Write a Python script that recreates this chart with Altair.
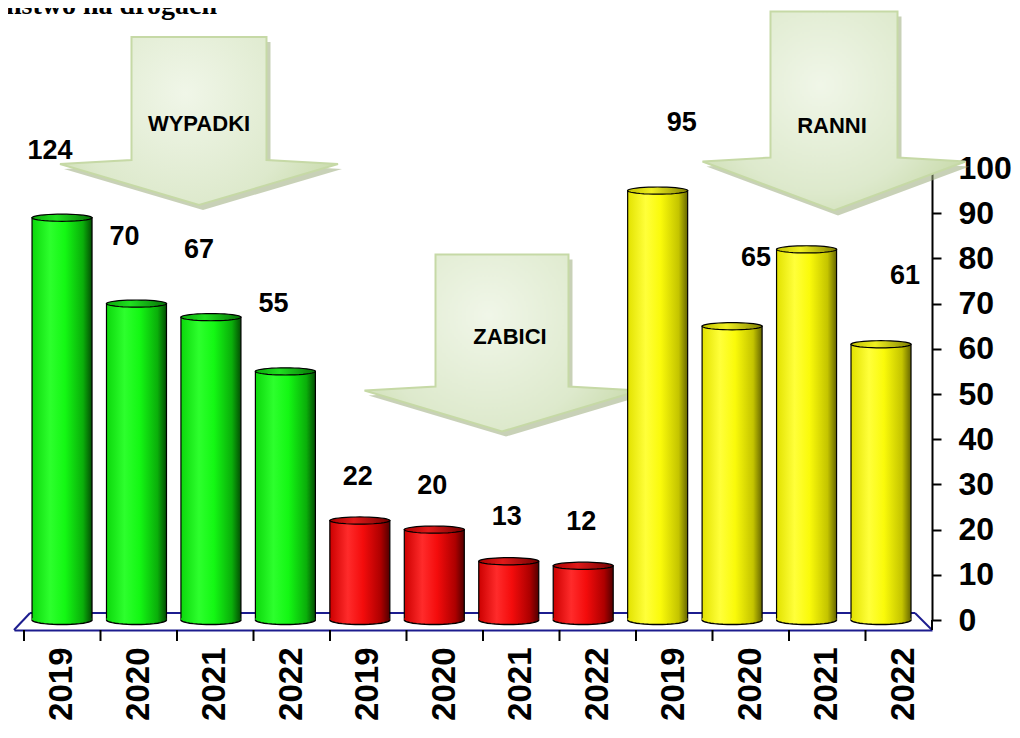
import math
import altair as alt
import pandas as pd

# ---------------- data ----------------
groups = ["WYPADKI", "ZABICI", "RANNI"]
years = ["2019", "2020", "2021", "2022"]
bar_heights = {
    "WYPADKI": [89, 70, 67, 55],
    "ZABICI": [22, 20, 13, 12],
    "RANNI": [95, 65, 82, 61],
}
value_labels = {
    "WYPADKI": ["124", "70", "67", "55"],
    "ZABICI": ["22", "20", "13", "12"],
    "RANNI": ["95", "65", "", "61"],
}
y_ticks = [0, 10, 20, 30, 40, 50, 60, 70, 80, 90, 100]
title_text = "Bezpieczeństwo na drogach"

rows = []
for g in groups:
    for yr, h, lab in zip(years, bar_heights[g], value_labels[g]):
        rows.append({"key": g[0] + yr, "group": g, "year": yr, "h": h, "lab": lab, "base": 0})
df = pd.DataFrame(rows)
keys = list(df["key"])

# ---------------- styles ----------------
W, H = 918, 452
NAVY = "#1c1c8e"
FONT = "Liberation Sans"


def hgrad(stops):
    return alt.LinearGradient(
        gradient="linear", x1=0, x2=1, y1=0, y2=0,
        stops=[alt.GradientStop(offset=o, color=c) for o, c in stops],
    )


body_grad = {
    "WYPADKI": hgrad([(0, "#0cd80c"), (0.3, "#2dff2d"), (0.55, "#14f814"), (0.85, "#0aae0a"), (1, "#034d03")]),
    "ZABICI": hgrad([(0, "#cc0000"), (0.3, "#ff2b2b"), (0.55, "#f40c0c"), (0.85, "#ad0000"), (1, "#520000")]),
    "RANNI": hgrad([(0, "#e2e200"), (0.3, "#ffff3a"), (0.55, "#fafa0a"), (0.85, "#c4c400"), (1, "#666600")]),
}
cap_grad = {
    "WYPADKI": hgrad([(0, "#0aa80a"), (0.4, "#1fe01f"), (1, "#067006")]),
    "ZABICI": hgrad([(0, "#a80000"), (0.4, "#e01a1a"), (1, "#700000")]),
    "RANNI": hgrad([(0, "#c0c000"), (0.4, "#f0f020"), (1, "#808000")]),
}
label_offsets = {"WYPADKI": (-12, -67), "ZABICI": (-2, -44), "RANNI": (24, -68)}

BAR_W = 60


def ellipse_pts(ry, a0, a1, n):
    return [(math.cos(a0 + (a1 - a0) * i / n), ry * math.sin(a0 + (a1 - a0) * i / n)) for i in range(n + 1)]


def to_path(pts, close=True):
    s = "M" + "L".join(f"{x:.4f},{y:.4f}" for x, y in pts)
    return s + ("Z" if close else "")


TOP_ELLIPSE = to_path(ellipse_pts(0.12, 0, 2 * math.pi, 40))
BOTTOM_COVER = to_path([(-1, -0.06), (1, -0.06)] + ellipse_pts(0.15, 0, math.pi, 20))
BOTTOM_ARC = to_path(ellipse_pts(0.15, 0, math.pi, 20), close=False)

x_bar = alt.X(
    "key:N", sort=keys,
    scale=alt.Scale(type="band", domain=keys, paddingInner=0, paddingOuter=0.165, align=0.44),
    axis=None,
)
y_scale = alt.Scale(domain=[0, 100], nice=False, zero=True)
y_axis = alt.Axis(
    orient="right", values=y_ticks, grid=False, title=None,
    domainColor="black", domainWidth=2, tickColor="black", tickWidth=2, tickSize=9,
    labelFont=FONT, labelFontSize=32, labelFontWeight="bold", labelColor="black",
    labelPadding=17, labelOverlap=False,
)


def y_enc(field):
    return alt.Y(field, scale=y_scale, axis=y_axis)


layers = []

# ---------------- arrows ----------------
arrow_grad = alt.RadialGradient(
    gradient="radial", x1=0.45, y1=0.4, r1=0, x2=0.45, y2=0.4, r2=0.75,
    stops=[alt.GradientStop(offset=0, color="#f0f6e8"),
           alt.GradientStop(offset=0.55, color="#dde9cc"),
           alt.GradientStop(offset=1, color="#bcd197")],
)


def arrow_path(w, h, sw, sl):
    s = w / 2
    hw = sw / 2 / s
    top = -h / 2 / s
    sb = (-h / 2 + sl) / s
    wing = sb + 4 / s
    tip = h / 2 / s
    return to_path([(-hw, top), (hw, top), (hw, sb), (1, wing), (0, tip), (-1, wing), (-hw, sb)])


# name, center x, center y (plot px), width, height, shaft width, shaft length, text x, text y
arrow_layout = [
    ("WYPADKI", 185, -47, 278, 168, 135, 123, 185, -44),
    ("ZABICI", 488, 175, 275, 177, 133, 132, 496, 169),
    ("RANNI", 820, -57, 263, 199, 127, 146, 818, -42),
]
for name, cx, cy, w, h, sw, sl, tx, ty in arrow_layout:
    adf = alt.Chart(pd.DataFrame({"label": [name]}))
    path = arrow_path(w, h, sw, sl)
    layers.append(adf.mark_point(shape=path, size=w * w, filled=True, fill="#9aac7c",
                                 strokeWidth=0, opacity=0.55)
                  .encode(x=alt.value(cx + 4), y=alt.value(cy + 5)))
    layers.append(adf.mark_point(shape=path, size=w * w, filled=True, fill=arrow_grad,
                                 stroke="#c6d9a6", strokeWidth=2, opacity=1)
                  .encode(x=alt.value(cx), y=alt.value(cy)))
    layers.append(adf.mark_text(font="Liberation Sans Narrow, Liberation Sans", fontSize=22,
                                fontWeight="bold", color="black", align="center", baseline="middle")
                  .encode(x=alt.value(tx), y=alt.value(ty), text="label:N"))

# ---------------- floor ----------------
floor = alt.Chart(pd.DataFrame({"e": [0]}))
layers.append(floor.mark_rule(color=NAVY, strokeWidth=2)
              .encode(x=alt.value(16), x2=alt.value(W - 17), y=alt.value(445), y2=alt.value(445)))
layers.append(floor.mark_rule(color=NAVY, strokeWidth=2)
              .encode(x=alt.value(0), x2=alt.value(16), y=alt.value(462), y2=alt.value(445)))
layers.append(floor.mark_rule(color=NAVY, strokeWidth=2)
              .encode(x=alt.value(W - 17), x2=alt.value(W), y=alt.value(445), y2=alt.value(462)))
layers.append(floor.mark_rule(color="black", strokeWidth=2)
              .encode(x=alt.value(W), x2=alt.value(W), y=alt.value(H), y2=alt.value(H + 10)))

# ---------------- cylinders ----------------
for g in groups:
    base = alt.Chart(df).transform_filter(alt.datum.group == g)
    layers.append(base.mark_bar(size=BAR_W, fill=body_grad[g], stroke="black", strokeWidth=1.2)
                  .encode(x=x_bar, y=y_enc("h:Q")))
    layers.append(base.mark_point(shape=BOTTOM_COVER, size=BAR_W * BAR_W, filled=True,
                                  fill=body_grad[g], strokeWidth=0, opacity=1)
                  .encode(x=x_bar, y=y_enc("base:Q")))
    layers.append(base.mark_point(shape=BOTTOM_ARC, size=BAR_W * BAR_W, filled=False,
                                  stroke="black", strokeWidth=1.4, opacity=1)
                  .encode(x=x_bar, y=y_enc("base:Q")))
    layers.append(base.mark_point(shape=TOP_ELLIPSE, size=BAR_W * BAR_W, filled=True,
                                  fill=cap_grad[g], stroke="black", strokeWidth=1.2, opacity=1)
                  .encode(x=x_bar, y=y_enc("h:Q")))

# ---------------- value labels ----------------
for g in groups:
    dx, dy = label_offsets[g]
    layers.append(alt.Chart(df).transform_filter(alt.datum.group == g)
                  .mark_text(font=FONT, fontSize=27, fontWeight="bold", color="black",
                             align="center", baseline="middle", dx=dx, dy=dy)
                  .encode(x=x_bar, y=y_enc("h:Q"), text="lab:N"))

# ---------------- category axis ----------------
axis_scale = alt.Scale(type="band", domain=keys, paddingInner=0, paddingOuter=0)
x_axis = alt.Axis(
    orient="bottom", offset=10, ticks=False, grid=False, title=None,
    domainColor=NAVY, domainWidth=2,
    labelAngle=270, labelExpr="substring(datum.value, 1)",
    labelFont=FONT, labelFontSize=33, labelFontWeight="bold", labelColor="black",
    labelPadding=17, labelOffset=10, labelOverlap=False,
)
layers.append(alt.Chart(df).mark_rule(color="black", strokeWidth=2, xOffset=10)
              .encode(x=alt.X("key:N", sort=keys, bandPosition=0, scale=axis_scale, axis=x_axis),
                      y=alt.value(H + 10), y2=alt.value(H + 21)))

# ---------------- title (cut at top) ----------------
layers.append(alt.Chart(pd.DataFrame({"t": [title_text]}))
              .mark_text(font="Liberation Serif", fontSize=28, fontWeight="bold", color="black",
                         align="right", baseline="alphabetic")
              .encode(x=alt.value(203), y=alt.value(-154), text="t:N"))

chart = (
    alt.layer(*layers)
    .resolve_scale(x="independent")
    .properties(
        width=W, height=H,
        padding={"left": 6, "top": 160, "right": 80, "bottom": 110},
        autosize=alt.AutoSizeParams(type="none"),
    )
    .configure_view(stroke=None)
)

chart.save("out.html", embed_options={"renderer": "svg", "actions": False})
